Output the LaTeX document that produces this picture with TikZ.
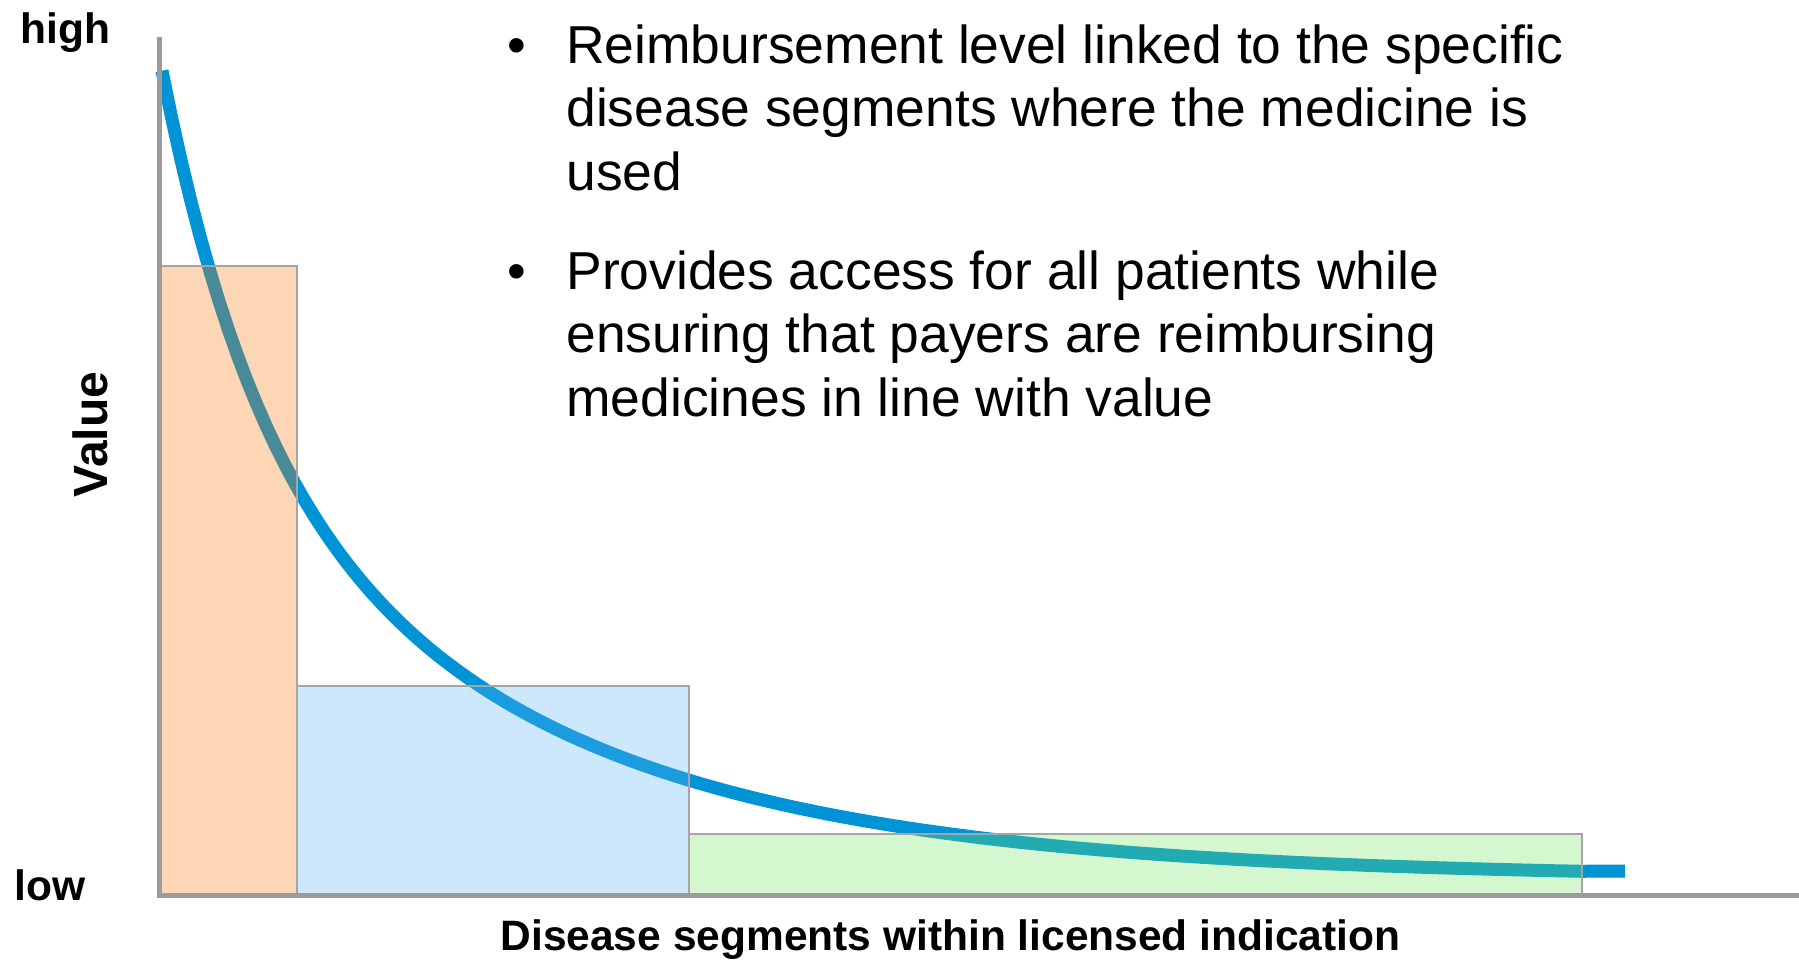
\documentclass[tikz,border=0pt]{standalone}
\usepackage{fontspec}
\setmainfont{Liberation Sans}
\usetikzlibrary{positioning}
\definecolor{curveblue}{RGB}{0,147,214}
\definecolor{axisgray}{RGB}{155,155,155}
\definecolor{edgegray}{RGB}{165,165,165}
\definecolor{segorange}{RGB}{245,120,10}
\definecolor{segblue}{RGB}{88,178,245}
\definecolor{seggreen}{RGB}{115,228,98}
\tikzset{
  lbl/.style={font=\fontsize{21.25}{25}\selectfont\bfseries, inner sep=0},
  txt/.style={font=\fontsize{26.7}{31.75}\selectfont, align=left, inner sep=0},
  seg/.style={draw=edgegray, line width=1pt, fill opacity=0.3},
}
\begin{document}
\begin{tikzpicture}[x=0.5pt,y=-0.5pt]
  \useasboundingbox (0,0) rectangle (1799,960);
  % value curve
  \draw[curveblue, line width=6.5pt] plot[domain=162:1581, samples=150]
    (\x, {877.7 - 330*exp(-(\x-162)/90) - 477*exp(-(\x-162)/330)}) -- (1625,871);
  % segments
  \filldraw[seg, fill=segorange] (161,266) rectangle (297,895);
  \filldraw[seg, fill=segblue] (297,686) rectangle (689,895);
  \filldraw[seg, fill=seggreen] (689,834) rectangle (1582,895);
  % axes
  \coordinate (o) at (159.5,895.5);
  \coordinate (ytop) at (159.5,37);
  \coordinate (xend) at (1799,895.5);
  \draw[axisgray, line width=2.5pt] (ytop) -- (o) -- (xend);
  % axis labels
  \node[lbl, anchor=base west] (high) at (20,43) {high};
  \node[lbl, anchor=base west] (low) at (14,900) {low};
  \node[lbl, font=\fontsize{24}{28}\selectfont\bfseries, rotate=90, anchor=base] (value) at (107,434.5) {Value};
  \node[lbl, anchor=base] (xlabel) at (950.5,950) {Disease segments within licensed indication};
  % bullets (base = last line)
  \node[txt, anchor=base] (dot1) at (517,63) {•};
  \node[txt, anchor=base west] (item1) at (566,190) {Reimbursement level linked to the specific\\
    disease segments where the medicine is\\used};
  \node[txt, anchor=base] (dot2) at (517,289) {•};
  \node[txt, anchor=base west] (item2) at (566,416) {Provides access for all patients while\\
    ensuring that payers are reimbursing\\medicines in line with value};
\end{tikzpicture}
\end{document}
